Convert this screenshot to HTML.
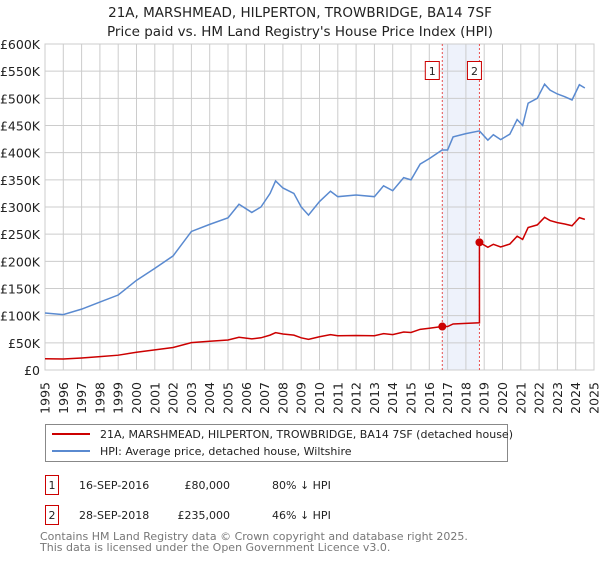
<!DOCTYPE html>
<html><head><meta charset="utf-8"><style>
body{margin:0;background:#fff;font-family:"Liberation Sans","DejaVu Sans",sans-serif;}
svg text{font-family:"DejaVu Sans","Liberation Sans",sans-serif;}
</style></head><body>
<svg id="c" width="600" height="560" viewBox="0 0 600 560" xmlns="http://www.w3.org/2000/svg">
<text x="300" y="17" text-anchor="middle" font-size="13.5" fill="#222">21A, MARSHMEAD, HILPERTON, TROWBRIDGE, BA14 7SF</text>
<text x="300" y="36" text-anchor="middle" font-size="13.5" fill="#222">Price paid vs. HM Land Registry's House Price Index (HPI)</text>
<g id="grid"></g><g id="marks"></g><g id="axes"></g>
<g>
<rect x="45.5" y="424.5" width="462" height="37" fill="#fff" stroke="#888"/>
<line x1="52" y1="434" x2="90" y2="434" stroke="#cc0000" stroke-width="2"/>
<text x="100" y="438" font-size="11" fill="#222">21A, MARSHMEAD, HILPERTON, TROWBRIDGE, BA14 7SF (detached house)</text>
<line x1="52" y1="451" x2="90" y2="451" stroke="#5a8ad0" stroke-width="2"/>
<text x="100" y="455" font-size="11" fill="#222">HPI: Average price, detached house, Wiltshire</text>
</g>
<g font-size="11" fill="#222">
<rect x="45.5" y="475.5" width="13" height="19" fill="#fff" stroke="#cc0000"/>
<text x="52" y="489" text-anchor="middle">1</text>
<text x="79" y="489">16-SEP-2016</text><text x="230" y="489" text-anchor="end">£80,000</text><text x="272" y="489">80% ↓ HPI</text>
<rect x="45.5" y="505.5" width="13" height="19" fill="#fff" stroke="#cc0000"/>
<text x="52" y="519" text-anchor="middle">2</text>
<text x="79" y="519">28-SEP-2018</text><text x="230" y="519" text-anchor="end">£235,000</text><text x="272" y="519">46% ↓ HPI</text>
</g>
<text x="40" y="540" font-size="11" fill="#777">Contains HM Land Registry data © Crown copyright and database right 2025.</text>
<text x="40" y="551" font-size="11" fill="#777">This data is licensed under the Open Government Licence v3.0.</text>
</svg>
<script>
const hpiYears=[1995,1996,1997,1998,1999,2000,2001,2002,2003,2004,2005,2005.6,2006.3,2006.8,2007.3,2007.6,2008,2008.6,2009,2009.4,2010,2010.6,2011,2012,2013,2013.5,2014,2014.6,2015,2015.5,2016,2016.7,2017,2017.3,2018,2018.74,2019.2,2019.5,2019.9,2020.4,2020.8,2021.1,2021.4,2021.9,2022.3,2022.6,2023,2023.4,2023.8,2024.2,2024.5];
const hpiValues=[105,102,112,125,138,165,187,210,255,268,280,305,290,300,325,348,335,325,300,285,310,329,319,322,319,339,330,354,350,379,389,405,405,429,435,440,423,433,424,434,461,450,491,500,526,515,508,503,497,525,519];
const saleYears=[2016.71,2018.74];
const salePrices=[80,235];
const saleLabels=["1","2"];
const yTicks=[0,50,100,150,200,250,300,350,400,450,500,550,600];
const yTickLabels=["£0","£50K","£100K","£150K","£200K","£250K","£300K","£350K","£400K","£450K","£500K","£550K","£600K"];
const xTicks=[1995,1996,1997,1998,1999,2000,2001,2002,2003,2004,2005,2006,2007,2008,2009,2010,2011,2012,2013,2014,2015,2016,2017,2018,2019,2020,2021,2022,2023,2024,2025];

const NS="http://www.w3.org/2000/svg";
const X0=45,X1=594,Y0=370,Y1=44;
const xs=y=>X0+(y-1995)/30*(X1-X0);
const ys=v=>Y0-v/600*(Y0-Y1);
function mk(t,a,p){const e=document.createElementNS(NS,t);for(const k in a)e.setAttribute(k,a[k]);p.appendChild(e);return e;}
const grid=document.getElementById('grid'),marks=document.getElementById('marks'),axes=document.getElementById('axes');
mk('rect',{x:X0,y:Y1,width:X1-X0,height:Y0-Y1,fill:'#fff'},grid);
const sh=mk('rect',{x:xs(saleYears[0]),y:Y1,width:xs(saleYears[1])-xs(saleYears[0]),height:Y0-Y1,fill:'#eef2fb'},grid);


yTicks.forEach((v,i)=>{
  mk('line',{x1:X0,x2:X1,y1:ys(v),y2:ys(v),stroke:'#cccccc','stroke-width':1},grid);
  const t=mk('text',{x:40,y:ys(v)+5,'text-anchor':'end','font-size':'12.5',fill:'#222'},axes);
  t.textContent=yTickLabels[i];
  
  
});
xTicks.forEach(y=>{
  mk('line',{x1:xs(y),x2:xs(y),y1:Y1,y2:Y0,stroke:'#cccccc','stroke-width':1},grid);
  const tx=xs(y)+4.5, ty=382;
  const t=mk('text',{x:tx,y:ty,'text-anchor':'end','font-size':'12.5',fill:'#222',transform:'rotate(-90 '+tx+' '+ty+')'},axes);
  t.textContent=y;
  
  
});
mk('rect',{x:X0,y:Y1,width:X1-X0,height:Y0-Y1,fill:'none',stroke:'#cccccc'},grid);
saleYears.forEach((y,i)=>{
  const l=mk('line',{x1:xs(y),x2:xs(y),y1:Y1,y2:Y0,stroke:'#e85050','stroke-width':1,'stroke-dasharray':'2,2'},marks);
  
  
  const r=mk('rect',{x:xs(y)-(i==0?17:12),y:61.5,width:14,height:18,fill:'#fff',stroke:'#cc0000'},marks);
  
  
  const t=mk('text',{x:xs(y)-(i==0?10:5),y:75,'text-anchor':'middle','font-size':'11',fill:'#222'},marks);
  t.textContent=saleLabels[i];
  
  
});
function hpiAt(y){for(let i=1;i<hpiYears.length;i++){if(y<=hpiYears[i]){const f=(y-hpiYears[i-1])/(hpiYears[i]-hpiYears[i-1]);return hpiValues[i-1]+f*(hpiValues[i]-hpiValues[i-1]);}}return hpiValues[hpiValues.length-1];}
const hp=mk('polyline',{points:hpiYears.map((y,i)=>xs(y)+','+ys(hpiValues[i])).join(' '),fill:'none',stroke:'#5a8ad0','stroke-width':1.5},marks);


const f0=salePrices[0]/hpiAt(saleYears[0]),f1=salePrices[1]/hpiAt(saleYears[1]);
let pts=[];
hpiYears.forEach((y,i)=>{if(y<saleYears[1])pts.push([y,hpiValues[i]*f0]);});
pts.push([saleYears[1],hpiAt(saleYears[1])*f0]);
pts.push([saleYears[1],salePrices[1]]);
hpiYears.forEach((y,i)=>{if(y>saleYears[1])pts.push([y,hpiValues[i]*f1]);});
const pl=mk('polyline',{points:pts.map(p=>xs(p[0])+','+ys(p[1])).join(' '),fill:'none',stroke:'#cc0000','stroke-width':1.5},marks);


saleYears.forEach((y,i)=>{
  const d=mk('circle',{cx:xs(y),cy:ys(salePrices[i]),r:4,fill:'#cc0000'},marks);
  
  
});
</script>
</body></html>
